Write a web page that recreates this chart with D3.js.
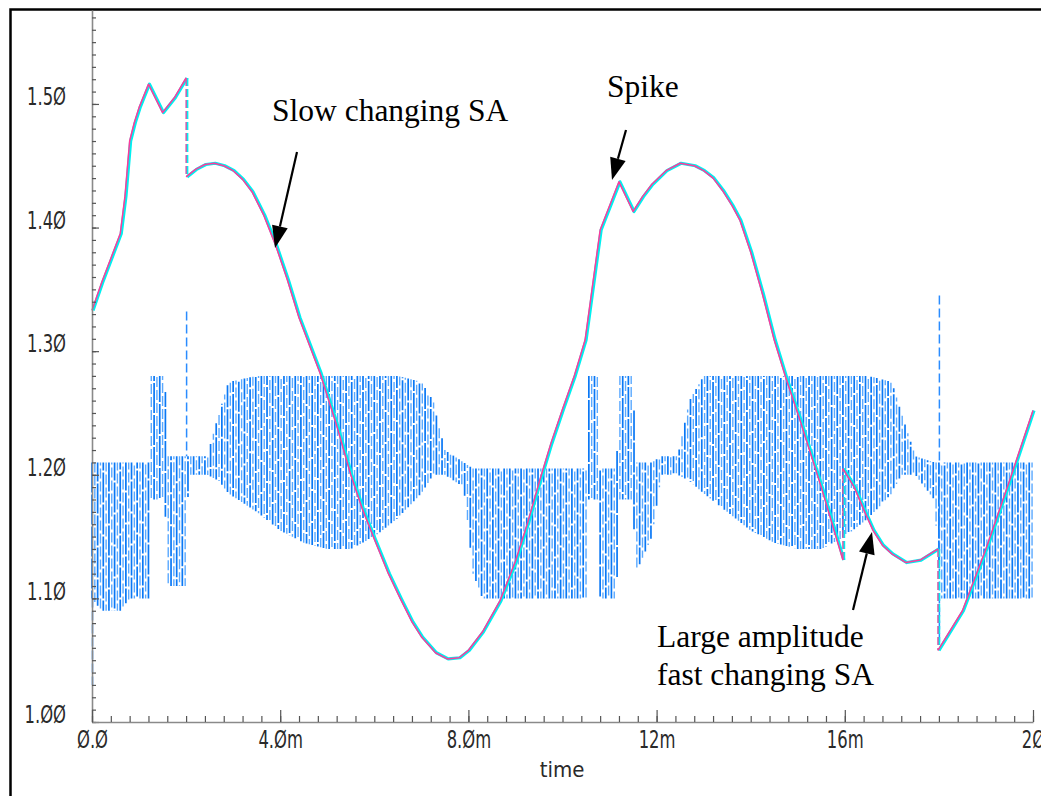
<!DOCTYPE html>
<html>
<head>
<meta charset="utf-8">
<script src="https://cdn.jsdelivr.net/npm/d3@7"></script>
<style>
  body { margin: 0; background: #fff; }
  svg { display: block; }
  .lbl text { font-family: "Liberation Sans Narrow", "DejaVu Sans Condensed", "Liberation Sans", sans-serif; fill: #2a2a2a; }
</style>
</head>
<body>
<script>
// slow changing SA (pink trace, cyan sampled copy) - time in ms, value in V
var slowTime  = [0, 0.2, 0.4, 0.6, 0.7, 0.8, 0.9, 1.0, 1.2, 1.5, 1.75, 2.0,
  2.0, 2.2, 2.4, 2.6, 2.8, 3.0, 3.2, 3.4, 3.65, 3.9, 4.15, 4.4, 4.85, 5.2, 5.5, 5.75, 6.0, 6.3, 6.55, 6.8, 7.0, 7.3, 7.55, 7.8, 8.0, 8.3, 8.67, 9.0, 9.25, 9.52, 9.75, 10.0, 10.25, 10.48, 10.8, 11.2, 11.5, 11.7, 11.9, 12.2, 12.5, 12.8, 13.0, 13.2, 13.4, 13.6, 13.77, 14.0, 14.25, 14.5, 14.75, 15.05, 15.5, 15.96,
  15.96, 16.2, 16.4, 16.6, 16.8, 17.0, 17.3, 17.6, 17.98,
  17.98, 18.5, 19.0, 19.5, 20.0];
var slowValue = [1.333, 1.355, 1.375, 1.395, 1.425, 1.47, 1.485, 1.497, 1.516, 1.493, 1.505, 1.521,
  1.441, 1.447, 1.451, 1.452, 1.450, 1.446, 1.439, 1.429, 1.41, 1.386, 1.358, 1.327, 1.282, 1.24, 1.20, 1.172, 1.148, 1.12, 1.10, 1.081, 1.069, 1.056, 1.051, 1.052, 1.058, 1.073, 1.098, 1.13, 1.16, 1.196, 1.225, 1.253, 1.28, 1.309, 1.398, 1.437, 1.413, 1.425, 1.435, 1.446, 1.452, 1.450, 1.446, 1.440, 1.43, 1.418, 1.406, 1.38, 1.346, 1.309, 1.278, 1.244, 1.19, 1.131,
  1.205, 1.19, 1.172, 1.155, 1.143, 1.136, 1.129, 1.131, 1.14,
  1.058, 1.09, 1.14, 1.195, 1.252];

// fast changing SA (blue) - upper / lower envelope of the oscillation
var fastTime = [0, 0.2, 0.6, 0.8, 1.2, 1.25, 1.55, 1.6, 2.0, 2.05, 2.45, 2.7, 2.9, 3.5, 4.0, 4.5, 5.0, 5.5, 6.0, 6.5, 7.0, 7.25, 7.5, 7.9, 8.1, 8.3, 10.5, 10.55, 10.75, 10.8, 11.15, 11.2, 11.5, 11.55, 11.9, 12.1, 12.45, 12.7, 13.0, 13.5, 14.0, 14.5, 15.0, 15.5, 16.0, 16.5, 17.0, 17.2, 17.5, 17.9, 18.05, 20.0];
var fastHigh = [1.21, 1.21, 1.21, 1.21, 1.21, 1.28, 1.28, 1.215, 1.215, 1.215, 1.215, 1.25, 1.275, 1.28, 1.28, 1.28, 1.28, 1.28, 1.28, 1.28, 1.275, 1.26, 1.22, 1.21, 1.205, 1.205, 1.205, 1.28, 1.28, 1.205, 1.205, 1.28, 1.28, 1.21, 1.21, 1.215, 1.215, 1.26, 1.28, 1.28, 1.28, 1.28, 1.28, 1.28, 1.28, 1.28, 1.275, 1.25, 1.215, 1.21, 1.21, 1.21];
var fastLow  = [1.10, 1.09, 1.09, 1.10, 1.10, 1.18, 1.18, 1.11, 1.11, 1.20, 1.20, 1.195, 1.185, 1.17, 1.155, 1.145, 1.14, 1.14, 1.15, 1.165, 1.185, 1.20, 1.20, 1.19, 1.12, 1.10, 1.10, 1.18, 1.18, 1.10, 1.10, 1.18, 1.18, 1.12, 1.15, 1.20, 1.20, 1.195, 1.185, 1.17, 1.155, 1.145, 1.14, 1.14, 1.15, 1.165, 1.185, 1.20, 1.20, 1.18, 1.10, 1.10];
var carrierPeriod = 0.12;

// dashed blue glitches
var glitchTime   = [0, 2.0, 18.0];
var glitchTop    = [1.10, 1.332, 1.345];
var glitchBottom = [1.03, 1.215, 1.065];

var yTicks = [1.0, 1.1, 1.2, 1.3, 1.4, 1.5];
var yTickLabels = ["1.ØØ", "1.1Ø", "1.2Ø", "1.3Ø", "1.4Ø", "1.5Ø"];
var xTicks = [0, 4, 8, 12, 16, 20];
var xTickLabels = ["Ø.Ø", "4.Øm", "8.Øm", "12m", "16m", "2Ø"];

function init() {
  var w = 1041, h = 796;
  var x = d3.scaleLinear().domain([0, 20]).range([92, 1033]);
  var y = d3.scaleLinear().domain([1.0, 1.576]).range([722, 10]);

  var svg = d3.select("body").append("svg")
    .attr("width", w).attr("height", h);

  svg.append("rect").attr("width", w).attr("height", h).attr("fill", "#fff");

  // frame
  svg.append("path").attr("d", "M10.5," + h + "V9.5H" + w)
    .attr("fill", "none").attr("stroke", "#000").attr("stroke-width", 2.5);

  // fast changing trace: one stripe per half period between the envelopes
  var hiAt = d3.scaleLinear().domain(fastTime).range(fastHigh).clamp(true);
  var loAt = d3.scaleLinear().domain(fastTime).range(fastLow).clamp(true);
  var lightT = d3.range(carrierPeriod / 2, 20.0001, carrierPeriod);
  var darkT = d3.range(0, 20.0001, carrierPeriod);

  svg.append("g").selectAll("line").data(lightT).enter().append("line")
    .attr("x1", function (d) { return x(d); })
    .attr("x2", function (d) { return x(d); })
    .attr("y1", function (d) { return y(hiAt(d)); })
    .attr("y2", function (d) { return y(loAt(d)); })
    .attr("stroke", "#5aa9ff").attr("stroke-width", 1.4)
    .attr("stroke-dasharray", "10,3")
    .attr("stroke-dashoffset", function (d, i) { return (i * 7) % 13; });
  svg.append("g").selectAll("line").data(darkT).enter().append("line")
    .attr("x1", function (d) { return x(d); })
    .attr("x2", function (d) { return x(d); })
    .attr("y1", function (d) { return y(hiAt(d)); })
    .attr("y2", function (d) { return y(loAt(d)); })
    .attr("stroke", "#0a78f5").attr("stroke-width", 1.7)
    .attr("stroke-dasharray", "30,2")
    .attr("stroke-dashoffset", function (d, i) { return (i * 11) % 32; });

  svg.selectAll(".glitch").data(glitchTime).enter().append("line")
    .attr("class", "glitch")
    .attr("x1", function (d) { return x(d) + 0.5; })
    .attr("x2", function (d) { return x(d) + 0.5; })
    .attr("y1", function (d, i) { return y(glitchTop[i]); })
    .attr("y2", function (d, i) { return y(glitchBottom[i]); })
    .attr("stroke", "#2a8cff").attr("stroke-width", 1.5)
    .attr("stroke-dasharray", "9,4");

  // slow changing trace: pieces split where the value jumps
  var pieces = [[]], jumps = [];
  slowTime.forEach(function (t, i) {
    if (i > 0 && t === slowTime[i - 1]) {
      jumps.push([t, slowValue[i - 1], slowValue[i]]);
      pieces.push([]);
    }
    pieces[pieces.length - 1].push([t, slowValue[i]]);
  });
  var slowLine = d3.line()
    .x(function (d) { return x(d[0]); })
    .y(function (d) { return y(d[1]); });
  [["#00f0f0", 3.2, 1], ["#ff3a9a", 1.5, 0]].forEach(function (s) {
    var g = svg.append("g").attr("transform", "translate(" + s[2] + ",0)");
    g.selectAll("path").data(pieces).enter().append("path")
      .attr("d", slowLine)
      .attr("fill", "none").attr("stroke", s[0]).attr("stroke-width", s[1])
      .attr("stroke-linejoin", "round");
    g.selectAll("line").data(jumps).enter().append("line")
      .attr("x1", function (d) { return x(d[0]); })
      .attr("x2", function (d) { return x(d[0]); })
      .attr("y1", function (d) { return y(d[1]); })
      .attr("y2", function (d) { return y(d[2]); })
      .attr("stroke", s[0]).attr("stroke-width", s[1] * 0.8)
      .attr("stroke-dasharray", "8,3");
  });

  // axes
  var yMinor = d3.range(1.0, 1.5751, 0.01);
  var xMinor = d3.range(0, 20.001, 0.4);

  var gy = svg.append("g").attr("transform", "translate(92,0)")
    .call(d3.axisRight(y).tickValues(yMinor).tickSize(4).tickSizeOuter(0).tickFormat(""));
  gy.append("g").call(d3.axisRight(y).tickValues(yTicks).tickSize(7).tickFormat(""))
    .select(".domain").remove();
  var gx = svg.append("g").attr("transform", "translate(0,722)")
    .call(d3.axisTop(x).tickValues(xMinor).tickSize(6).tickSizeOuter(0).tickFormat(""));
  gx.append("g").call(d3.axisTop(x).tickValues(xTicks).tickSize(12).tickFormat(""))
    .select(".domain").remove();
  svg.selectAll(".domain").attr("stroke", "#8a8a8a").attr("stroke-width", 1.6);
  svg.selectAll(".tick line").attr("stroke", "#555").attr("stroke-width", 1.2);

  svg.append("g").attr("class", "lbl").attr("transform", "translate(92,-7)")
    .call(d3.axisLeft(y).tickValues(yTicks).tickSize(0).tickPadding(26)
      .tickFormat(function (d, i) { return yTickLabels[i]; }));
  svg.append("g").attr("class", "lbl").attr("transform", "translate(0,722)")
    .call(d3.axisBottom(x).tickValues(xTicks).tickSize(0).tickPadding(9)
      .tickFormat(function (d, i) { return xTickLabels[i]; }));
  svg.selectAll(".lbl .domain").remove();
  svg.selectAll(".lbl text").attr("font-size", 24).each(function () {
    var n = this.getComputedTextLength();
    d3.select(this).attr("textLength", n * 0.76).attr("lengthAdjust", "spacingAndGlyphs");
  });

  svg.append("g").attr("class", "lbl").append("text")
    .attr("x", 562).attr("y", 777).attr("text-anchor", "middle")
    .attr("font-size", 22).text("time");

  // annotations
  var notes = [
    { lines: ["Slow changing SA"], x: 272, y: 121, from: [297, 152], to: [275, 248] },
    { lines: ["Spike"], x: 607, y: 97, from: [626, 130], to: [612, 180] },
    { lines: ["Large amplitude", "fast changing SA"], x: 657, y: 647, from: [853, 610], to: [872, 532] }
  ];
  notes.forEach(function (n) {
    n.lines.forEach(function (s, i) {
      svg.append("text").attr("x", n.x).attr("y", n.y + i * 38)
        .attr("font-family", "'Liberation Serif', 'Times New Roman', serif")
        .attr("font-size", 31.5).attr("fill", "#000").text(s);
    });
    var dx = n.to[0] - n.from[0], dy = n.to[1] - n.from[1];
    var len = Math.sqrt(dx * dx + dy * dy), ux = dx / len, uy = dy / len;
    var hl = 22, hw = 8;
    var bx = n.to[0] - ux * hl, by = n.to[1] - uy * hl;
    svg.append("line").attr("x1", n.from[0]).attr("y1", n.from[1])
      .attr("x2", bx).attr("y2", by).attr("stroke", "#000").attr("stroke-width", 2.2);
    svg.append("path")
      .attr("d", "M" + n.to[0] + "," + n.to[1] +
        "L" + (bx - uy * hw) + "," + (by + ux * hw) +
        "L" + (bx + uy * hw) + "," + (by - ux * hw) + "Z")
      .attr("fill", "#000");
  });
}
window.onload = init;
</script>
</body>
</html>
